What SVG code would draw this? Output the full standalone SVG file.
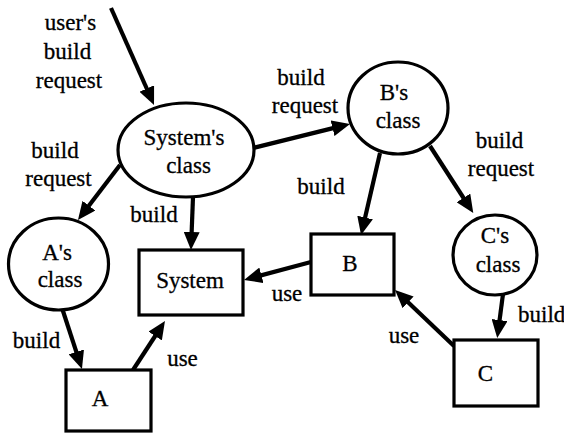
<svg xmlns="http://www.w3.org/2000/svg" width="564" height="436" viewBox="0 0 564 436" font-family="'Liberation Serif', 'DejaVu Serif', serif">
<style>
text{font-size:23px;fill:#000;text-anchor:middle;stroke:#000;stroke-width:0.3}
.node ellipse,.node rect{fill:#fff;stroke:#000;stroke-width:3.2}
.conn line{stroke:#000;stroke-width:4.2;marker-end:url(#ah)}
</style>
<defs>
<marker id="ah" viewBox="0 0 18 16" refX="12" refY="8" markerWidth="18" markerHeight="16" markerUnits="userSpaceOnUse" orient="auto">
<path d="M0,0 L18,8 L0,16 Z" fill="#000"/>
</marker>
</defs>
<g id="connectors" class="conn">
<line x1="111" y1="8" x2="151.6" y2="99.5"/>
<line x1="120" y1="165" x2="81.6" y2="215.2"/>
<line x1="193" y1="197" x2="191.2" y2="244"/>
<line x1="253" y1="148" x2="344.2" y2="125.4"/>
<line x1="380" y1="153" x2="362.4" y2="229.2"/>
<line x1="430" y1="146" x2="470" y2="208"/>
<line x1="311" y1="262" x2="249.8" y2="278.4"/>
<line x1="503" y1="294" x2="498" y2="332"/>
<line x1="454" y1="346" x2="399.4" y2="294.1"/>
<line x1="62" y1="308" x2="80.1" y2="363.3"/>
<line x1="133" y1="370" x2="161.7" y2="326"/>
</g>
<g id="labels">
<text x="70.5" y="30">user's</text>
<text x="67.5" y="59">build</text>
<text x="69" y="88">request</text>
<text x="55" y="158">build</text>
<text x="58.5" y="186">request</text>
<text x="301" y="85">build</text>
<text x="305" y="113">request</text>
<text x="499.5" y="148">build</text>
<text x="501" y="176">request</text>
<text x="321" y="194">build</text>
<text x="154" y="222">build</text>
<text x="36.5" y="348">build</text>
<text x="182.5" y="366">use</text>
<text x="287" y="301">use</text>
<text x="518" y="322" style="text-anchor:start">build</text>
<text x="404" y="343">use</text>
</g>
<g id="systems-class" class="node">
<ellipse cx="186" cy="150" rx="68" ry="47"/>
<text x="184" y="145">System's</text>
<text x="188.5" y="173">class</text>
</g>
<g id="bs-class" class="node">
<ellipse cx="398" cy="108" rx="50" ry="46"/>
<text x="394" y="100">B's</text>
<text x="398" y="128">class</text>
</g>
<g id="as-class" class="node">
<ellipse cx="58.5" cy="264" rx="50" ry="46"/>
<text x="57" y="260">A's</text>
<text x="60" y="287">class</text>
</g>
<g id="cs-class" class="node">
<ellipse cx="495" cy="255" rx="42" ry="40"/>
<text x="495" y="243">C's</text>
<text x="498" y="272">class</text>
</g>
<g id="system" class="node">
<rect x="139" y="250" width="104" height="65"/>
<text x="190" y="288">System</text>
</g>
<g id="b" class="node">
<rect x="311" y="234" width="83" height="61"/>
<text x="350" y="271">B</text>
</g>
<g id="c" class="node">
<rect x="454" y="340" width="84" height="66"/>
<text x="485.5" y="381">C</text>
</g>
<g id="a" class="node">
<rect x="66" y="370" width="85" height="61"/>
<text x="100" y="406">A</text>
</g>
</svg>
